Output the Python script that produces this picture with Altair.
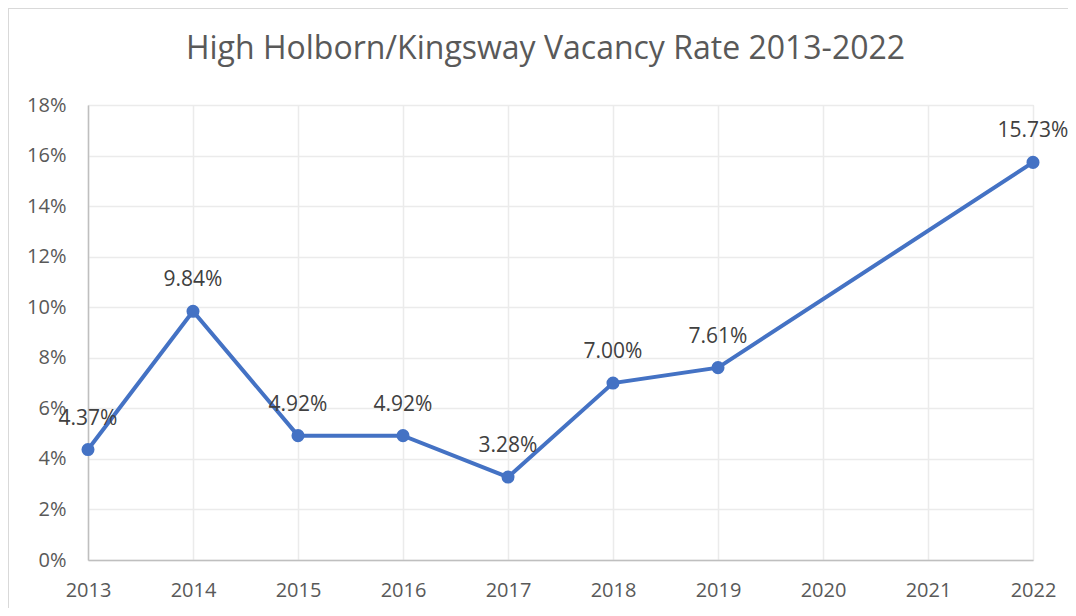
import altair as alt
import pandas as pd

years = [2013, 2014, 2015, 2016, 2017, 2018, 2019, 2022]
rates = [0.0437, 0.0984, 0.0492, 0.0492, 0.0328, 0.0700, 0.0761, 0.1573]
year_ticks = [2013, 2014, 2015, 2016, 2017, 2018, 2019, 2020, 2021, 2022]
y_ticks = [0, 0.02, 0.04, 0.06, 0.08, 0.10, 0.12, 0.14, 0.16, 0.18]

df = pd.DataFrame({"year": years, "rate": rates})

FONT = "Open Sans"
W, H = 945, 455

x = alt.X("year:Q", scale=alt.Scale(domain=[2013, 2022], nice=False, zero=False),
          axis=alt.Axis(values=year_ticks, format="d", title=None, ticks=False,
                        labelPadding=20, labelFontSize=20, labelColor="#595959",
                        labelFont=FONT, domainColor="#bfbfbf", domainWidth=1.5,
                        gridColor="#ebebeb", gridWidth=1.5, labelFlush=False))
y = alt.Y("rate:Q", scale=alt.Scale(domain=[0, 0.18], nice=False),
          axis=alt.Axis(values=y_ticks, format=".0%", title=None, ticks=False,
                        labelPadding=22, labelFontSize=20, labelColor="#595959",
                        labelFont=FONT, domainColor="#bfbfbf", domainWidth=1.5,
                        gridColor="#ebebeb", gridWidth=1.5))

base = alt.Chart(df)
line = base.mark_line(color="#4472C4", strokeWidth=4).encode(x=x, y=y)
pts = base.mark_point(filled=True, color="#4472C4", size=170, opacity=1).encode(x=x, y=y)
labels = base.mark_text(font=FONT, fontSize=21, color="#404040", baseline="middle",
                        align="center", dy=-31).encode(
    x=x, y=y, text=alt.Text("rate:Q", format=".2%"))

frame = alt.Chart(pd.DataFrame({"a": [0]})).mark_rect(
    filled=False, stroke="#d9d9d9", strokeWidth=2).encode(
    x=alt.value(-80), x2=alt.value(W + 60), y=alt.value(-97), y2=alt.value(H + 70))

chart = alt.layer(frame, line, pts, labels).properties(
    width=W, height=H,
    title=alt.TitleParams("High Holborn/Kingsway Vacancy Rate 2013-2022",
                          font=FONT, fontSize=32, fontWeight="normal",
                          color="#595959", anchor="middle", dx=-15,
                          baseline="alphabetic", offset=-84),
    autosize=alt.AutoSizeParams(type="none"),
    padding={"left": 80, "top": 97, "right": 35, "bottom": 48},
).configure_view(stroke=None).configure(background="white")

chart.save("out.html", embed_options={"renderer": "svg", "actions": False})
